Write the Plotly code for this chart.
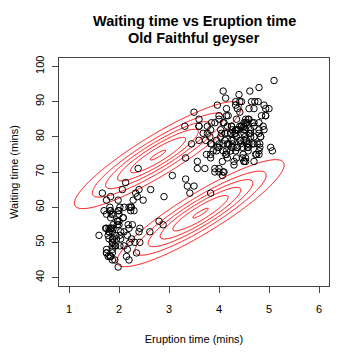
import numpy as np
import plotly.graph_objects as go

eruptions = [3.600,1.800,3.333,2.283,4.533,2.883,4.700,3.600,1.950,4.350,1.833,3.917,4.200,1.750,4.700,2.167,1.750,4.800,1.600,4.250,
1.800,1.750,3.450,3.067,4.533,3.600,1.967,4.083,3.850,4.433,4.300,4.467,3.367,4.033,3.833,2.017,1.867,4.833,1.833,4.783,
4.350,1.883,4.567,1.750,4.533,3.317,3.833,2.100,4.633,2.000,4.800,4.716,1.833,4.833,1.733,4.883,3.717,1.667,4.567,4.317,
2.233,4.500,1.750,4.800,1.817,4.400,4.167,4.700,2.067,4.700,4.033,1.967,4.500,4.000,1.983,5.067,2.017,4.567,3.883,3.600,
4.133,4.333,4.100,2.633,4.067,4.933,3.950,4.517,2.167,4.000,2.200,4.333,1.867,4.817,1.833,4.300,4.667,3.750,1.867,4.900,
2.483,4.367,2.100,4.500,4.050,1.867,4.700,1.783,4.850,3.683,4.733,2.300,4.900,4.417,1.700,4.633,2.317,4.600,1.817,4.417,
2.617,4.067,4.250,1.967,4.600,3.767,1.917,4.500,2.267,4.650,1.867,4.167,2.800,4.333,1.833,4.383,1.883,4.933,2.033,3.733,
4.233,2.233,4.533,4.817,4.333,1.983,4.633,2.017,5.100,1.800,5.033,4.000,2.400,4.600,3.567,4.000,4.500,4.083,1.800,3.967,
2.200,4.150,2.000,3.833,3.500,4.583,2.367,5.000,1.933,4.617,1.917,2.083,4.583,3.333,4.167,4.333,4.500,2.417,4.000,4.167,
1.883,4.583,4.250,3.767,2.033,4.433,4.083,1.833,4.417,2.183,4.800,1.833,4.800,4.100,3.966,4.233,3.500,4.366,2.250,4.667,
2.100,4.350,4.133,1.867,4.600,1.783,4.367,3.850,1.933,4.500,2.383,4.700,1.867,3.833,3.417,4.233,2.400,4.800,2.000,4.150,
1.867,4.267,1.750,4.483,4.000,4.117,4.083,4.267,3.917,4.550,4.083,2.417,4.183,2.217,4.450,1.883,1.850,4.283,3.950,2.333,
4.150,2.350,4.933,2.900,4.583,3.833,2.083,4.367,2.133,4.350,2.200,4.450,3.567,4.500,4.150,3.817,3.917,4.450,2.000,4.283,
4.767,4.533,1.850,4.250,1.983,2.250,4.750,4.117,2.150,4.417,1.817,4.467]

waiting = [79,54,74,62,85,55,88,85,51,85,54,84,78,47,83,52,62,84,52,79,
51,47,78,69,74,83,55,76,78,79,73,77,66,80,74,52,48,80,59,90,
80,58,84,58,73,83,64,53,82,59,75,90,54,80,54,83,71,64,77,81,
59,84,48,82,60,92,78,78,65,73,82,56,79,71,62,76,60,78,76,83,
75,82,70,65,73,88,76,80,48,86,60,90,50,78,63,72,84,75,51,82,
62,88,49,83,81,47,84,52,86,81,75,59,89,79,59,81,50,85,59,87,
53,69,77,56,88,81,45,82,55,90,45,83,56,89,46,82,51,86,53,79,
81,60,82,77,76,59,80,49,96,53,77,77,65,81,71,70,81,93,53,89,
45,86,58,78,66,76,63,88,52,93,49,57,77,68,81,81,73,50,85,74,
55,77,83,83,51,78,84,46,83,55,81,57,76,84,77,81,87,77,51,78,
60,82,91,53,78,46,77,84,49,83,71,80,49,75,64,76,53,94,55,76,
50,82,54,75,78,79,78,78,70,79,70,54,86,50,90,54,54,77,79,64,
75,47,86,63,85,82,57,82,67,74,54,83,73,73,88,80,71,83,56,79,
78,84,58,83,43,60,75,81,46,90,46,74]

# Two-component Gaussian mixture
comp_weight = [0.47, 0.47]
comp_mean_x = [2.78, 3.63]
comp_mean_y = [74.8, 58.3]
comp_sd_x = [0.88, 0.88]
comp_sd_y = [8.0, 8.0]
comp_rho = [0.9, 0.9]
contour_levels = [0.004, 0.008, 0.012, 0.016, 0.020, 0.024]

x_ticks = [1, 2, 3, 4, 5, 6]
y_ticks = [40, 50, 60, 70, 80, 90, 100]

gx = np.linspace(0.8, 6.2, 360)
gy = np.linspace(37.6, 102.4, 360)
X, Y = np.meshgrid(gx, gy)
Z = np.zeros_like(X)
for w, mx, my, sx, sy, r in zip(comp_weight, comp_mean_x, comp_mean_y, comp_sd_x, comp_sd_y, comp_rho):
    u = (X - mx) / sx
    v = (Y - my) / sy
    q = (u * u - 2 * r * u * v + v * v) / (1 - r * r)
    Z += w * np.exp(-q / 2) / (2 * np.pi * sx * sy * np.sqrt(1 - r * r))

fig = go.Figure()
fig.add_trace(go.Contour(
    x=gx, y=gy, z=Z,
    contours=dict(coloring='lines', start=contour_levels[0], end=contour_levels[-1],
                  size=contour_levels[1] - contour_levels[0], showlabels=False),
    colorscale=[[0, 'red'], [1, 'red']],
    line=dict(width=1),
    showscale=False, hoverinfo='skip'))
fig.add_trace(go.Scatter(
    x=eruptions, y=waiting, mode='markers',
    marker=dict(symbol='circle-open', size=6.5, color='black', line=dict(width=1, color='black')),
    showlegend=False))

font = "Liberation Sans, Arial, sans-serif"
# page has an 8px body margin, so the figure is drawn 8px in from the top-left
fig.update_layout(
    width=352, height=352,
    margin=dict(l=51, r=31, t=50, b=74),
    paper_bgcolor='white', plot_bgcolor='white',
    font=dict(family=font, size=11, color='black'),
    showlegend=False,
    annotations=[
        dict(text='<b>Waiting time vs Eruption time</b>', xref='paper', yref='paper',
             x=0.5, y=(286 - 21) / 228, xanchor='center', yanchor='middle', showarrow=False,
             font=dict(size=14.5, family=font, color='black')),
        dict(text='<b>Old Faithful geyser</b>', xref='paper', yref='paper',
             x=0.5, y=(286 - 37.5) / 228, xanchor='center', yanchor='middle', showarrow=False,
             font=dict(size=14.5, family=font, color='black')),
    ],
)
fig.update_xaxes(range=[0.8, 6.2], tickvals=x_ticks, ticks='outside', ticklen=6, tickcolor='#444',
                 automargin=False, ticklabelstandoff=7,
                 showgrid=False, zeroline=False, showline=True, mirror=True, linecolor='#444', linewidth=1,
                 title=dict(text='Eruption time (mins)', standoff=21, font=dict(size=11)))
fig.update_yaxes(range=[37.6, 102.4], tickvals=y_ticks, ticks='outside', ticklen=6, tickcolor='#444',
                 tickangle=-90, automargin=False, ticklabelstandoff=4,
                 showgrid=False, zeroline=False, showline=True, mirror=True, linecolor='#444', linewidth=1,
                 title=dict(text='Waiting time (mins)', standoff=22, font=dict(size=11)))

fig.write_html("out.html")
